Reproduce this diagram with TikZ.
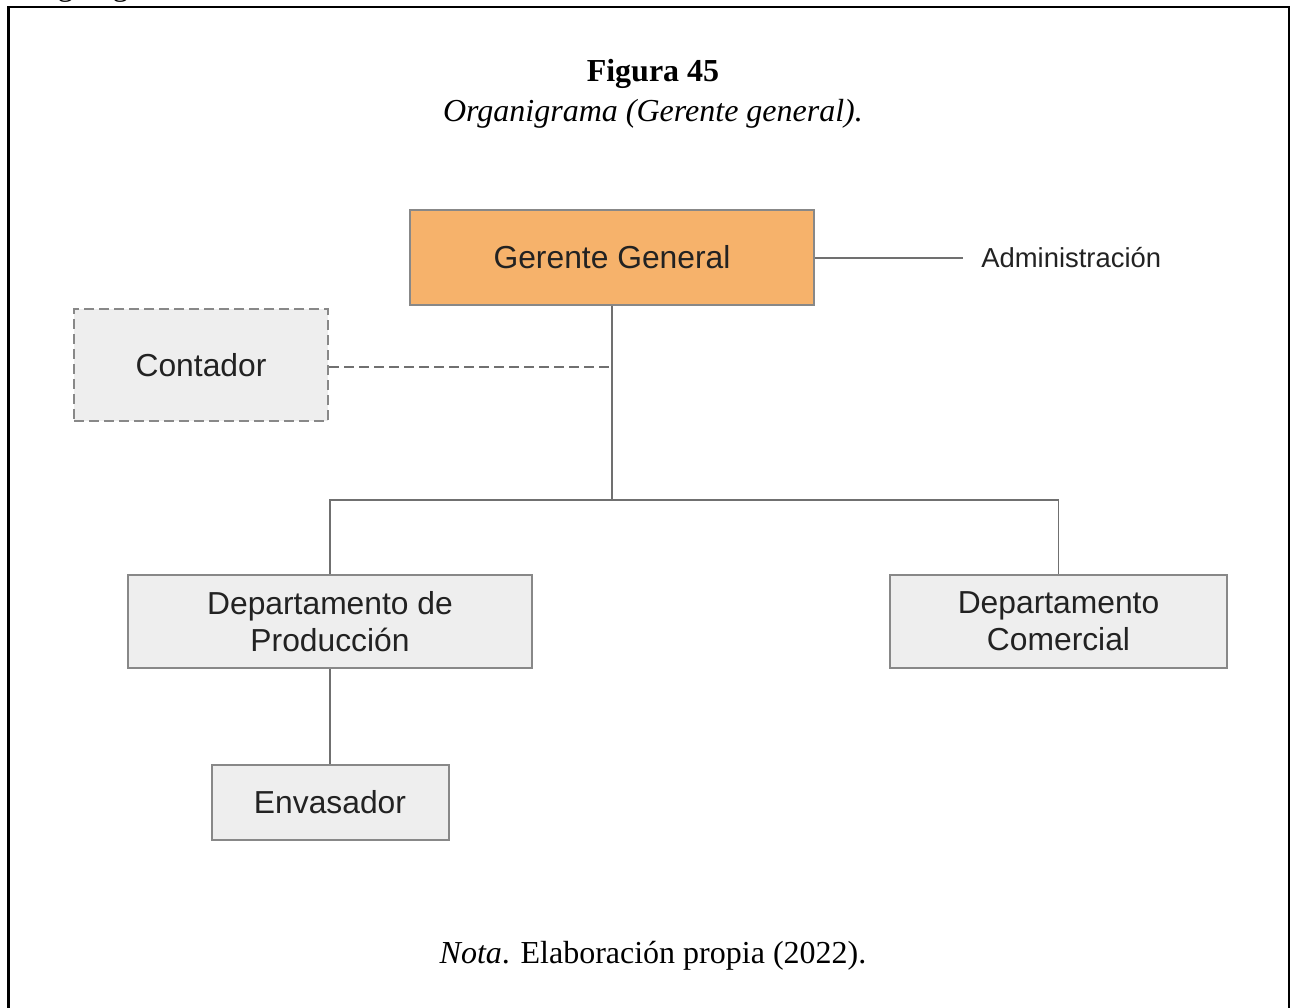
\documentclass[tikz,border=0pt]{standalone}
\usepackage{fontspec}
\setmainfont{Liberation Serif}
\newfontfamily\arialf{Liberation Sans}
\definecolor{boxfill}{HTML}{EEEEEE}
\definecolor{orangefill}{HTML}{F6B26B}
\definecolor{boxline}{HTML}{888888}
\definecolor{conline}{HTML}{707070}
\definecolor{boxtext}{HTML}{222222}
\begin{document}
\begin{tikzpicture}[x=0.5pt,y=-0.5pt,
  orgbox/.style={draw=boxline, line width=1pt, fill=boxfill, inner sep=0pt,
    font=\arialf\fontsize{15.9}{19}\selectfont, text=boxtext, align=center},
  conn/.style={draw=conline, line width=0.9pt},
  frameline/.style={draw=black, line width=1.1pt},
  serif16/.style={font=\fontsize{16}{19}\selectfont}]
\useasboundingbox (0,0) rectangle (1290,1007);

% page frame
\draw[frameline] (8.5,1010) -- (8.5,7) -- (1289,7) -- (1289,1010);
\node[serif16, anchor=base west, inner sep=0pt] (cut) at (24,-5) {Organigrama};

% titles
\node[serif16, anchor=base, inner sep=0pt] (fig) at (653,81) {\bfseries Figura 45};
\node[serif16, anchor=base, inner sep=0pt] (sub) at (653,121) {\itshape Organigrama (Gerente general).};
\node[serif16, anchor=base, inner sep=0pt] (nota) at (653,963) {\textit{Nota}\/. Elaboración propia (2022).};

% boxes
\node[orgbox, fill=orangefill, minimum width=202pt, minimum height=47.5pt] (gg) at (612,257.5) {Gerente General};
\node[orgbox, dashed, dash pattern=on 5pt off 2.5pt, minimum width=127pt, minimum height=56pt] (cont) at (201,365) {Contador};
\node[orgbox, minimum width=202pt, minimum height=46.5pt] (prod) at (330,621.5) {Departamento de\\[-0.5pt]Producción};
\node[orgbox, minimum width=168.5pt, minimum height=46.5pt] (com) at (1058.5,621.5) {Departamento\\[-0.5pt]Comercial};
\node[orgbox, minimum width=118.5pt, minimum height=37.5pt] (env) at (330,802.5) {Envasador};

\node[font=\arialf\fontsize{13.7}{16}\selectfont, text=boxtext, anchor=west, inner sep=0pt] (adm) at (981,258) {Administración};

% connectors
\coordinate (admend) at (963,258);
\coordinate (jc) at (612,367);
\coordinate (jm) at (612,500);
\draw[conn] (gg.east |- admend) -- (admend);
\draw[conn] (gg.south) -- (jm);
\draw[conn, dashed, dash pattern=on 5pt off 2.5pt] (cont.east |- jc) -- (jc);
\draw[conn] (prod.north) |- (jm) -| (com.north);
\draw[conn] (prod.south) -- (env.north);
\end{tikzpicture}
\end{document}
